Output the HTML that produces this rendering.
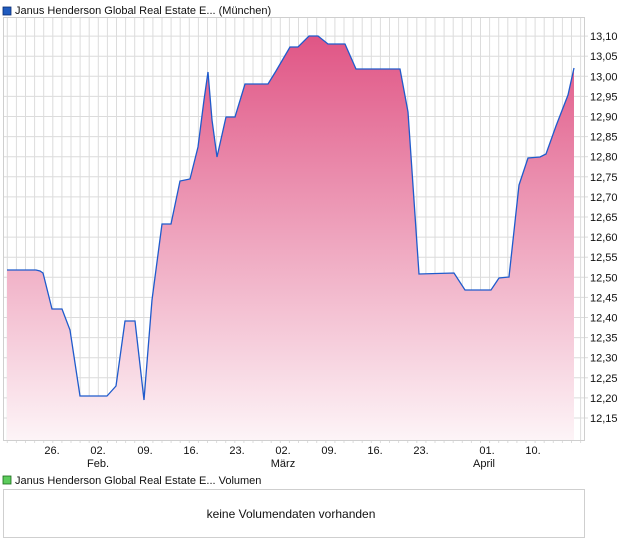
<!DOCTYPE html>
<html><head><meta charset="utf-8"><style>
body{margin:0;background:#fff;font-family:"Liberation Sans",sans-serif;}
</style></head><body>
<svg width="620" height="546" xmlns="http://www.w3.org/2000/svg" font-family="Liberation Sans, sans-serif">
<defs><linearGradient id="g" x1="0" y1="0" x2="0" y2="1">
<stop offset="0" stop-color="#e05585"/><stop offset="1" stop-color="#fdf4f7"/></linearGradient></defs>
<rect x="3" y="7" width="8" height="8" fill="#1f5bbf" stroke="#0a2a70" stroke-width="0.8"/>
<text x="15" y="14" font-size="11" fill="#111">Janus Henderson Global Real Estate E... (München)</text>
<g id="grid" stroke="#dcdcdc" stroke-width="1">
</g>
<rect x="3.5" y="17.5" width="581" height="423" fill="none" stroke="#cfcfcf"/>
<path id="area" fill="url(#g)" stroke="none"/>
<path id="line" fill="none" stroke="#1f5bcc" stroke-width="1.3"/>
<g font-size="11" fill="#111" id="ylab"></g>
<g font-size="11" fill="#111" text-anchor="middle">
<text x="52" y="454">26.</text><text x="98" y="454">02.</text><text x="145" y="454">09.</text><text x="191" y="454">16.</text><text x="237" y="454">23.</text><text x="283" y="454">02.</text><text x="329" y="454">09.</text><text x="375" y="454">16.</text><text x="421" y="454">23.</text><text x="487" y="454">01.</text><text x="533" y="454">10.</text>
<text x="98" y="467">Feb.</text><text x="283" y="467">März</text><text x="484" y="467">April</text>
</g>
<rect x="3" y="476" width="8" height="8" fill="#5ccc5c" stroke="#1a6a1a" stroke-width="0.8"/>
<text x="15" y="484" font-size="11" fill="#111">Janus Henderson Global Real Estate E... Volumen</text>
<rect x="3.5" y="489.5" width="581" height="48" fill="none" stroke="#cfcfcf"/>
<text x="291" y="518" font-size="12" fill="#111" text-anchor="middle">keine Volumendaten vorhanden</text>
</svg>
<script>
var ns="http://www.w3.org/2000/svg",g=document.getElementById('grid'),yl=document.getElementById('ylab');
function ln(x1,y1,x2,y2){var l=document.createElementNS(ns,'line');l.setAttribute('x1',x1);l.setAttribute('y1',y1);l.setAttribute('x2',x2);l.setAttribute('y2',y2);g.appendChild(l);}
for(var i=0;i<64;i++){var x=7.3+i*9.1;ln(x,18,x,440);ln(x,440,x,443);}
for(var k=0;k<=20;k++){var y=418-k*20.1;if(y<18)break;ln(4,y,584,y);ln(584,y,588,y);
if(k<=19){var t=document.createElementNS(ns,'text');t.setAttribute('x',590);t.setAttribute('y',y+4);t.textContent=(12.15+k*0.05).toFixed(2).replace('.',',');yl.appendChild(t);}}
var p=[[7,270],[36,270],[40,271],[43,273],[52,309],[62,309],[70,330],[80,396],[107,396],[116,386],[125,321],[135,321],[144,400],[152,300],[162,224],[171,224],[180,181],[190,179],[198,147],[204,100],[208,72],[212,120],[217,157],[226,117],[235,117],[245,84],[268,84],[276,71],[290,47],[298,47],[309,36],[318,36],[328,44],[345,44],[356,69],[400,69],[408,112],[419,274],[454,273],[465,290],[491,290],[499,278],[509,277],[519,185],[528,158],[540,157],[546,154],[556,126],[568,95],[574,68]];
var d='M'+p.map(function(a){return a.join(',')}).join(' L');
document.getElementById('line').setAttribute('d',d);
document.getElementById('area').setAttribute('d',d+' L574,440 L7,440 Z');
</script>
</body></html>
